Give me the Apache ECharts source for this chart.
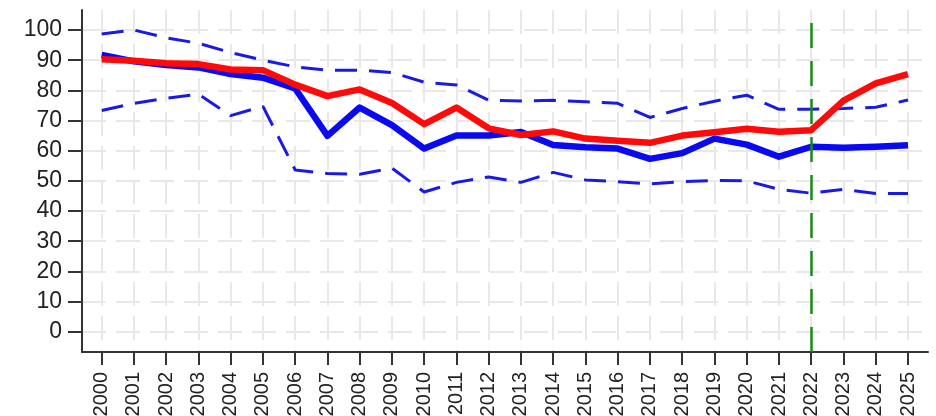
<!DOCTYPE html>
<html>
<head>
<meta charset="utf-8">
<script src="https://cdn.jsdelivr.net/npm/echarts@6/dist/echarts.min.js"></script>
<style>
  html, body { margin: 0; padding: 0; background: #ffffff; }
  #chart { width: 936px; height: 416px; }
</style>
</head>
<body>
<div id="chart"></div>
<script>
// Years on the horizontal axis
const years = [2000, 2001, 2002, 2003, 2004, 2005, 2006, 2007, 2008, 2009,
  2010, 2011, 2012, 2013, 2014, 2015, 2016, 2017, 2018, 2019,
  2020, 2021, 2022, 2023, 2024, 2025];

// Central estimate (blue, thick)
const central = [91.7, 89.6, 88.4, 87.6, 85.4, 84.2, 80.6, 64.9, 74.3, 68.5,
  60.7, 65.0, 65.0, 66.2, 61.9, 61.1, 60.7, 57.3, 59.2, 64.0,
  62.0, 58.0, 61.3, 61.0, 61.3, 61.8];

// Observed series (red, thick)
const observed = [90.3, 89.8, 89.0, 88.7, 86.9, 86.7, 81.9, 78.1, 80.3, 75.8,
  68.8, 74.3, 67.4, 65.2, 66.4, 64.0, 63.3, 62.6, 65.0, 66.1,
  67.3, 66.3, 66.8, 76.6, 82.3, 85.4];

// Upper and lower bounds (blue, dashed)
const upper = [98.7, 100.0, 97.4, 95.6, 92.5, 90.0, 87.8, 86.7, 86.7, 85.9,
  82.7, 81.8, 76.7, 76.5, 76.7, 76.2, 75.7, 71.0, 74.0, 76.4,
  78.4, 73.7, 73.7, 74.0, 74.4, 76.8];
const lower = [73.3, 75.7, 77.4, 78.7, 71.6, 74.7, 53.6, 52.4, 52.2, 54.2,
  46.3, 49.5, 51.3, 49.5, 52.8, 50.3, 49.7, 49.0, 49.7, 50.1,
  50.0, 47.2, 45.9, 47.2, 45.8, 45.8];

// Y tick labels
const yTicks = [0, 10, 20, 30, 40, 50, 60, 70, 80, 90, 100];

// Year marking the start of the projection period
const markerYear = 2022;

const pairs = (vals) => years.map((y, i) => [y, vals[i]]);

const FONT = 'Liberation Sans, Arial, sans-serif';
const gridLine = { show: true, lineStyle: { color: '#e8e8e8', width: 2, type: [24, 10] } };
const axisLine = { show: true, onZero: false, lineStyle: { color: '#333333', width: 2 } };

const chart = echarts.init(document.getElementById('chart'), null, { renderer: 'canvas' });

chart.setOption({
  animation: false,
  backgroundColor: '#ffffff',
  grid: { left: 82, right: 8, top: 10, bottom: 64, containLabel: false, outerBoundsMode: 'none' },
  xAxis: {
    type: 'value',
    min: 1999.39,
    max: 2025.62,
    axisLine: axisLine,
    axisTick: { show: true, length: 13, lineStyle: { color: '#333333', width: 2 }, customValues: years },
    axisLabel: {
      customValues: years,
      rotate: 90,
      margin: 20,
      fontSize: 20,
      color: '#222222',
      fontFamily: FONT,
      formatter: (v) => String(v)
    },
    splitLine: gridLine
  },
  yAxis: {
    type: 'value',
    min: -6.73,
    max: 106.63,
    axisLine: axisLine,
    axisTick: { show: true, length: 14, lineStyle: { color: '#333333', width: 2 }, customValues: yTicks },
    axisLabel: {
      customValues: yTicks,
      margin: 20,
      fontSize: 23,
      color: '#222222',
      fontFamily: FONT
    },
    splitLine: gridLine
  },
  series: [
    {
      name: 'upper', type: 'line', data: pairs(upper), symbol: 'none',
      lineStyle: { color: '#1a1ae6', width: 3, type: [22, 12] }, z: 3
    },
    {
      name: 'lower', type: 'line', data: pairs(lower), symbol: 'none',
      lineStyle: { color: '#1a1ae6', width: 3, type: [22, 12] }, z: 3
    },
    {
      name: 'central', type: 'line', data: pairs(central), symbol: 'none',
      lineStyle: { color: '#0a0af0', width: 6.5, join: 'round' }, z: 4,
      markLine: {
        silent: true,
        symbol: 'none',
        label: { show: false },
        lineStyle: { color: '#1a8a1a', width: 2.5, type: [25, 13] },
        data: [{ xAxis: markerYear }]
      }
    },
    {
      name: 'observed', type: 'line', data: pairs(observed), symbol: 'none',
      lineStyle: { color: '#ff0a0a', width: 6.5, join: 'round' }, z: 5
    }
  ]
});
</script>
</body>
</html>
